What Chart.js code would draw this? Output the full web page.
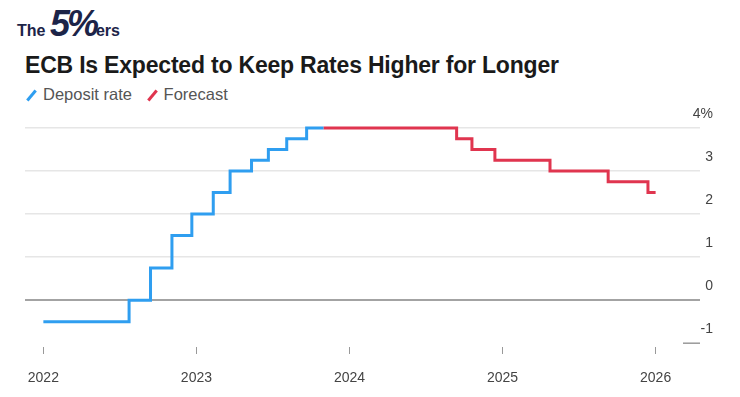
<!DOCTYPE html>
<html>
<head>
<meta charset="utf-8">
<script src="https://cdn.jsdelivr.net/npm/chart.js@4.4.0/dist/chart.umd.min.js"></script>
<style>
  body { margin: 0; background: #fff; font-family: "Liberation Sans", Arial, sans-serif; }
  #wrap { position: relative; width: 740px; height: 397px; overflow: hidden; }
  #logo { position: absolute; left: 17px; top: 3px; color: #1c2448; white-space: nowrap; }
  #logo .sm { font-size: 16px; font-weight: bold; }
  #logo .big { font-size: 36px; font-weight: 900; font-style: italic; letter-spacing: -3px; }
  #title { position: absolute; left: 25px; top: 52px; font-size: 23px; font-weight: bold; color: #1a1a1a; white-space: nowrap; letter-spacing: -0.2px; }
  #legend { position: absolute; left: 26px; top: 85px; font-size: 16.5px; color: #555; white-space: nowrap; }
  #legend .sw { display: inline-block; width: 3px; height: 13px; transform: rotate(40deg); margin: 0 10px 0 4px; vertical-align: -2px; }
  #legend .item { margin-right: 10px; }
  #c { position: absolute; left: 0; top: 100px; }
</style>
</head>
<body>
<div id="wrap">
  <div id="logo"><span class="sm">The </span><span class="big">5%</span><span class="sm">ers</span></div>
  <div id="title">ECB Is Expected to Keep Rates Higher for Longer</div>
  <div id="legend">
    <span class="sw" style="background:#2f9ef0"></span><span class="item">Deposit rate</span>
    <span class="sw" style="background:#e0354f"></span><span class="item">Forecast</span>
  </div>
  <canvas id="c" width="740" height="303"></canvas>
</div>
<script>
// dates as decimal years, rate changes (new level from that date)
const depositX = [2022.0, 2022.56, 2022.70, 2022.84, 2022.97, 2023.11, 2023.22, 2023.36, 2023.47, 2023.59, 2023.72, 2023.83];
const depositY = [-0.5, 0, 0.75, 1.5, 2.0, 2.5, 3.0, 3.25, 3.5, 3.75, 4.0, 4.0];
const forecastX = [2023.83, 2024.70, 2024.80, 2024.95, 2025.31, 2025.69, 2025.95, 2026.0];
const forecastY = [4.0, 3.75, 3.5, 3.25, 3.0, 2.75, 2.5, 2.5];
const yearTicks = [2022, 2023, 2024, 2025, 2026];
const rateTicks = [-1, 0, 1, 2, 3, 4];

const toPoints = (xs, ys) => xs.map((x, i) => ({ x: x, y: ys[i] }));

// short dash marking the -1 level at the right edge
const minusDash = {
  id: 'minusDash',
  afterDraw(chart) {
    const { ctx, scales: { y }, chartArea } = chart;
    const py = y.getPixelForValue(-1);
    ctx.save();
    ctx.strokeStyle = '#999';
    ctx.lineWidth = 1.5;
    ctx.beginPath();
    ctx.moveTo(chartArea.right - 17, py);
    ctx.lineTo(chartArea.right, py);
    ctx.stroke();
    ctx.restore();
  }
};

new Chart(document.getElementById('c'), {
  type: 'line',
  data: {
    datasets: [
      { label: 'Deposit rate', data: toPoints(depositX, depositY), borderColor: '#2f9ef0', borderWidth: 3, stepped: true, pointRadius: 0, clip: false },
      { label: 'Forecast', data: toPoints(forecastX, forecastY), borderColor: '#e0354f', borderWidth: 3, stepped: true, pointRadius: 0, clip: false }
    ]
  },
  options: {
    responsive: false,
    animation: false,
    layout: { padding: { left: 25, right: 14, top: 28, bottom: 0 } },
    plugins: { legend: { display: false }, tooltip: { enabled: false } },
    scales: {
      x: {
        type: 'linear',
        min: 2021.88,
        max: 2026.29,
        afterBuildTicks: (s) => { s.ticks = yearTicks.map(v => ({ value: v })); },
        grid: { drawOnChartArea: false, drawTicks: true, tickLength: 11, tickColor: '#999', tickBorderDash: [0, 4, 7, 100] },
        border: { display: false },
        ticks: { color: '#444', font: { size: 14, family: '"Liberation Sans", Arial' }, padding: 16, callback: v => String(v) }
      },
      y: {
        position: 'right',
        min: -1,
        max: 4,
        afterBuildTicks: (s) => { s.ticks = rateTicks.map(v => ({ value: v })); },
        grid: {
          drawTicks: false,
          lineWidth: (c) => c.tick && c.tick.value === 0 ? 2 : 1.5,
          color: (c) => {
            if (!c.tick) return '#e6e6e6';
            if (c.tick.value === 0) return '#a3a3a3';
            if (c.tick.value === -1) return 'rgba(0,0,0,0)';
            return '#e6e6e6';
          }
        },
        border: { display: false },
        ticks: {
          color: '#444',
          font: { size: 14, family: '"Liberation Sans", Arial' },
          mirror: true,
          crossAlign: 'near',
          padding: 13,
          labelOffset: -14,
          callback: v => v === 4 ? '4%' : String(v)
        }
      }
    }
  },
  plugins: [minusDash]
});
</script>
</body>
</html>
